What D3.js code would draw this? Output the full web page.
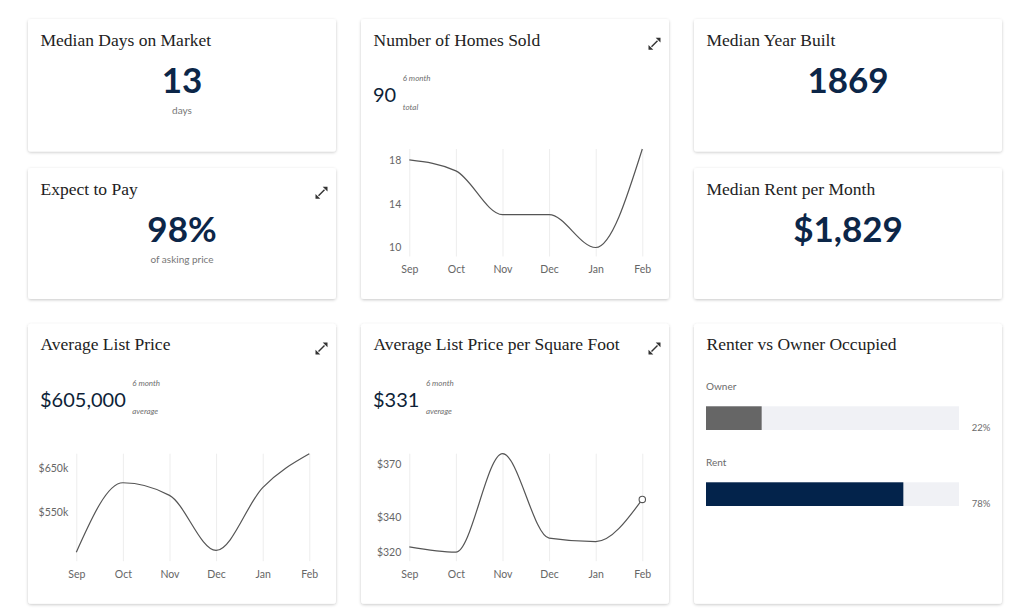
<!DOCTYPE html>
<html>
<head>
<meta charset="utf-8">
<script src="https://cdn.jsdelivr.net/npm/d3@7/dist/d3.min.js"></script>
<style>
  html, body { margin: 0; padding: 0; background: #ffffff; }
  svg { display: block; }
  .axis text { font-family: Lato, "Open Sans", sans-serif; font-size: 10.5px; fill: #666666; }
  .axis .domain { display: none; }
  .xaxis line { stroke: #ededed; stroke-width: 1; }
</style>
</head>
<body>
<svg id="chart" width="1029" height="616"></svg>
<script>
// ---------------- DATA ----------------
const months = ["Sep", "Oct", "Nov", "Dec", "Jan", "Feb"];

const homesSold = [18, 17, 13, 13, 10, 19];
const homesSoldTicks = [10, 14, 18];

const listPrice = [457000, 617000, 588000, 461000, 606000, 684000];
const listPriceTicks = [550000, 650000];

const pricePerSqft = [323, 320, 376, 328, 326, 350];
const pricePerSqftTicks = [320, 340, 370];

const occupancyLabels = ["Owner", "Rent"];
const occupancyShares = [22, 78];

const kpiTitles = ["Median Days on Market", "Expect to Pay", "Median Year Built", "Median Rent per Month"];
const kpiValues = ["13", "98%", "1869", "$1,829"];
const kpiUnits = ["days", "of asking price", "", ""];

const chartTitles = ["Number of Homes Sold", "Average List Price", "Average List Price per Square Foot", "Renter vs Owner Occupied"];
const chartSummaryValues = ["90", "$605,000", "$331"];
const chartSummaryTop = ["6 month", "6 month", "6 month"];
const chartSummaryBottom = ["total", "average", "average"];

// ---------------- LAYOUT ----------------
const svg = d3.select("#chart");
const NAVY = "#0c2648";
const defs = svg.append("defs");
const f = defs.append("filter").attr("id", "shadow").attr("x", "-10%").attr("y", "-10%").attr("width", "120%").attr("height", "130%");
f.append("feDropShadow").attr("dx", 0).attr("dy", 1).attr("stdDeviation", 1.6)
  .attr("flood-color", "#000").attr("flood-opacity", 0.22);

const cols = [28, 361, 694];
const cardW = 308;
const cards = {
  days:   {x: cols[0], y: 19,    h: 132.5},
  pay:    {x: cols[0], y: 168,   h: 131},
  homes:  {x: cols[1], y: 19,    h: 280},
  year:   {x: cols[2], y: 19,    h: 132.5},
  rent:   {x: cols[2], y: 168,   h: 131},
  list:   {x: cols[0], y: 323.7, h: 280},
  sqft:   {x: cols[1], y: 323.7, h: 280},
  occ:    {x: cols[2], y: 323.7, h: 280}
};

Object.values(cards).forEach(c => {
  svg.append("rect").attr("x", c.x).attr("y", c.y).attr("width", cardW).attr("height", c.h)
    .attr("rx", 3).attr("fill", "#fff").attr("filter", "url(#shadow)");
});

function title(c, text) {
  svg.append("text").attr("x", c.x + 12.5).attr("y", c.y + 26.5)
    .attr("font-family", "'Liberation Serif', 'DejaVu Serif', serif")
    .attr("font-size", 17.5).attr("fill", "#222").text(text);
}

function expandIcon(c) {
  const g = svg.append("g").attr("transform", `translate(${c.x + cardW - 14.5},${c.y + 24.8})`);
  g.append("path").attr("d", "M6,-6 L1.2,-6 L6,-1.2 Z M-6,6 L-1.2,6 L-6,1.2 Z").attr("fill", "#333");
  g.append("line").attr("x1", -3).attr("y1", 3).attr("x2", 3).attr("y2", -3)
    .attr("stroke", "#333").attr("stroke-width", 1.4);
}

// KPI cards
const kpiCards = [cards.days, cards.pay, cards.year, cards.rent];
kpiCards.forEach((c, i) => {
  title(c, kpiTitles[i]);
  svg.append("text").attr("x", c.x + cardW / 2).attr("y", c.y + 74)
    .attr("text-anchor", "middle").attr("font-family", "Lato, 'Open Sans', sans-serif")
    .attr("font-weight", 700).attr("font-size", 35).attr("fill", NAVY).text(kpiValues[i]);
  if (kpiUnits[i]) {
    svg.append("text").attr("x", c.x + cardW / 2).attr("y", c.y + 95)
      .attr("text-anchor", "middle").attr("font-family", "Lato, 'Open Sans', sans-serif")
      .attr("font-size", 10).attr("fill", "#777").text(kpiUnits[i]);
  }
});
expandIcon(cards.pay);

// Line charts
function lineChart(c, idx, values, ticks, fmt, endDot) {
  title(c, chartTitles[idx]);
  expandIcon(c);
  const num = svg.append("text").attr("x", c.x + 12).attr("y", c.y + 83)
    .attr("font-family", "Lato, 'Open Sans', sans-serif").attr("font-size", 20)
    .attr("fill", "#0e1f38").text(chartSummaryValues[idx]);
  const nx = c.x + 12 + num.node().getComputedTextLength() + 6.5;
  svg.append("text").attr("x", nx).attr("y", c.y + 62.3)
    .attr("font-family", "Lato, 'Open Sans', sans-serif").attr("font-style", "italic")
    .attr("font-size", 8).attr("fill", "#6f6f6f").text(chartSummaryTop[idx]);
  svg.append("text").attr("x", nx).attr("y", c.y + 90.5)
    .attr("font-family", "Lato, 'Open Sans', sans-serif").attr("font-style", "italic")
    .attr("font-size", 8).attr("fill", "#6f6f6f").text(chartSummaryBottom[idx]);

  const left = c.x + 48.3, right = c.x + cardW - 26.7;
  const gridTop = c.y + 130, gridBottom = c.y + 237.5;
  const x = d3.scalePoint().domain(months).range([left, right]);
  const y = d3.scaleLinear().domain(d3.extent(values)).range([gridBottom - 9, gridTop]);

  svg.append("g").attr("class", "axis xaxis").attr("transform", `translate(0,${gridBottom})`)
    .call(d3.axisBottom(x).tickSize(-(gridBottom - gridTop)).tickPadding(9));
  svg.append("g").attr("class", "axis yaxis").attr("transform", `translate(${left},0)`)
    .call(d3.axisLeft(y).tickValues(ticks).tickSize(0).tickPadding(8).tickFormat(fmt));

  const line = d3.line().x((d, i) => x(months[i])).y(d => y(d)).curve(d3.curveMonotoneX);
  svg.append("path").datum(values).attr("d", line).attr("fill", "none")
    .attr("stroke", "#555").attr("stroke-width", 1.2);
  if (endDot) {
    const last = values.length - 1;
    svg.append("circle").attr("cx", x(months[last])).attr("cy", y(values[last])).attr("r", 3.2)
      .attr("fill", "#fff").attr("stroke", "#555").attr("stroke-width", 1.1);
  }
}

lineChart(cards.homes, 0, homesSold, homesSoldTicks, d => d, false);
lineChart(cards.list, 1, listPrice, listPriceTicks, d => "$" + (d / 1000) + "k", false);
lineChart(cards.sqft, 2, pricePerSqft, pricePerSqftTicks, d => "$" + d, true);

// Renter vs Owner
const oc = cards.occ;
title(oc, chartTitles[3]);
const bx = d3.scaleLinear().domain([0, 100]).range([oc.x + 12, oc.x + 265]);
const barColors = ["#666666", "#03234b"];
occupancyLabels.forEach((lab, i) => {
  const top = oc.y + 58.6 + i * 76;
  svg.append("text").attr("x", oc.x + 12).attr("y", top + 8)
    .attr("font-family", "Lato, 'Open Sans', sans-serif").attr("font-size", 10)
    .attr("fill", "#6b6b6b").text(lab);
  svg.append("rect").attr("x", bx(0)).attr("y", top + 24).attr("width", bx(100) - bx(0)).attr("height", 23.7)
    .attr("fill", "#f0f1f5");
  svg.append("rect").attr("x", bx(0)).attr("y", top + 24).attr("width", bx(occupancyShares[i]) - bx(0)).attr("height", 23.7)
    .attr("fill", barColors[i]);
  svg.append("text").attr("x", oc.x + 277.7).attr("y", top + 48.7)
    .attr("font-family", "Lato, 'Open Sans', sans-serif").attr("font-size", 9.5)
    .attr("fill", "#6b6b6b").text(occupancyShares[i] + "%");
});
</script>
</body>
</html>
